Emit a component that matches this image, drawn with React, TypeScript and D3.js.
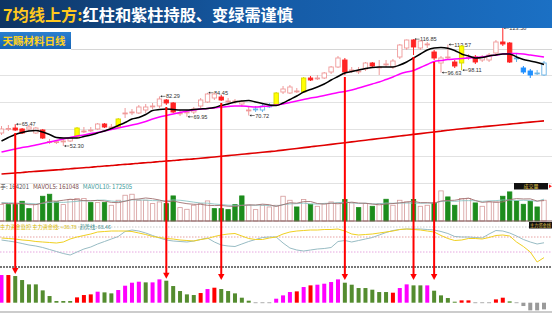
import React from 'react';
import * as d3 from 'd3';

const W = 552;
const H = 313;

// ---- candles ----
const candleOpen = [60.15, 62.6, 63.17, 62.57, 62.57, 60.15, 61.97, 54.72, 54.6, 55.0,
  55.32, 57.74, 61.1, 61.7, 62.57, 65.59, 63.5, 63.78, 71.9, 72.5,
  72.24, 74.05, 76.2, 76.46, 80.09, 78.28, 71.9, 72.5, 72.84, 76.46,
  78.88, 81.30, 81.90, 79.2, 79.2, 77.67, 73.7, 74.35, 74.05, 76.2,
  77.07, 84.92, 84.32, 85.2, 84.92, 93.38, 93.1, 93.38, 97.00, 100.02,
  104.25, 97.9, 97.3, 98.82, 102.44, 99.7, 101.5, 100.02, 106.06, 111.50,
  116.33, 111.50, 113.7, 109.09, 102.44, 105.8, 103.04, 102.44, 105.8, 106.06,
  104.25, 104.25, 108.48, 115.13, 114.52, 105.2, 99.42, 97.61, 96.1, 95.19];
const candleHigh = [64.38, 64.99, 65.47, 63.17, 64.99, 63.78, 62.57, 56.53, 55.92, 56.53,
  57.74, 63.78, 63.78, 63.78, 66.19, 66.19, 65.59, 69.21, 75.26, 74.65,
  77.07, 77.67, 78.28, 82.29, 80.69, 78.88, 74.05, 74.05, 75.86, 81.30,
  84.45, 84.32, 83.11, 81.30, 80.69, 80.09, 75.86, 76.46, 77.67, 78.28,
  84.92, 88.55, 89.15, 87.34, 93.98, 94.59, 95.19, 97.00, 100.63, 106.67,
  105.46, 100.02, 100.02, 103.04, 103.04, 104.25, 104.25, 104.86, 113.92, 116.6,
  116.85, 116.33, 115.13, 110.29, 106.67, 113.57, 104.25, 113.31, 107.88, 107.27,
  107.27, 108.48, 116.33, 123.58, 115.13, 108.48, 100.63, 98.82, 98.21, 103.65];
const candleLow = [58.95, 61.36, 61.36, 59.55, 61.36, 59.55, 56.53, 53.51, 53.51, 52.30,
  54.72, 57.13, 60.15, 60.76, 61.97, 63.17, 62.57, 63.17, 69.21, 71.03,
  71.63, 72.24, 74.65, 75.26, 77.07, 72.24, 70.42, 69.95, 71.63, 75.26,
  78.28, 80.09, 79.48, 77.67, 77.67, 75.86, 70.72, 72.84, 72.84, 75.26,
  76.46, 83.71, 83.71, 84.32, 84.32, 91.57, 92.17, 92.77, 95.80, 99.42,
  95.19, 96.40, 95.80, 97.61, 99.42, 95.19, 100.02, 98.82, 104.86, 110.29,
  107.27, 110.29, 111.50, 104.25, 96.63, 104.25, 99.42, 98.11, 104.25, 101.84,
  103.04, 103.04, 106.67, 112.71, 102.44, 103.04, 95.80, 93.38, 95.19, 94.59];
const candleClose = [62.57, 62.9, 61.97, 60.15, 63.78, 63.17, 57.13, 55.0, 54.9, 55.32,
  57.13, 63.17, 61.36, 61.97, 65.59, 63.78, 63.78, 68.61, 72.24, 72.84,
  75.86, 75.86, 76.46, 80.69, 78.28, 72.84, 72.24, 72.84, 74.65, 80.09,
  83.71, 83.71, 80.09, 79.48, 79.48, 78.88, 74.05, 74.65, 76.46, 76.46,
  84.32, 86.73, 87.94, 85.53, 93.38, 92.17, 93.38, 96.40, 100.02, 105.46,
  97.00, 98.21, 97.61, 102.44, 100.63, 100.02, 101.84, 103.65, 113.31, 116.33,
  112.11, 115.73, 113.92, 105.46, 105.46, 106.06, 100.63, 112.71, 106.06, 103.04,
  106.06, 107.27, 115.13, 113.92, 103.04, 105.46, 97.00, 95.19, 96.40, 102.44];
// p = pink hollow, r = red solid, y = yellow, c = light-blue hollow, b = blue solid
const candleKind = [
  'p','p','r','r','p','p','r','p','p','p',
  'p','y','p','p','p','r','p','y','p','p',
  'p','p','p','p','r','r','p','p','p','p',
  'p','p','r','p','p','p','p','c','c','c',
  'y','p','p','p','y','r','p','p','p','p',
  'r','p','p','p','r','p','p','p','p','p',
  'r','p','p','r','p','p','r','y','p','r',
  'p','p','p','r','r','c','b','b','c','c'];

// moving averages on price panel
const maShort = [55.32,57.43,59.25,60.46,61.36,61.66,60.76,59.25,57.43,57.13,
  57.13,57.13,58.04,58.95,60.15,61.36,62.87,64.68,66.50,68.61,
  69.52,71.33,73.75,74.35,74.65,74.35,74.05,74.05,74.35,74.65,
  74.95,75.56,76.77,77.67,78.88,79.48,79.79,78.88,77.97,77.07,
  76.77,78.28,80.39,82.51,84.92,86.43,87.94,89.75,92.17,94.29,
  96.40,97.31,98.21,99.12,99.72,100.02,100.02,100.02,101.23,103.04,
  105.46,107.88,110.29,111.50,111.80,111.32,109.99,107.88,106.67,105.46,
  105.76,106.67,107.27,107.88,107.88,106.06,104.55,103.65,102.74,101.53];
const maMid = [48.68,49.58,50.49,51.39,52.00,52.90,53.81,54.72,55.62,56.53,
  57.43,58.34,58.95,59.85,60.46,61.36,62.27,63.17,64.08,64.99,
  65.89,67.10,68.61,69.82,70.72,71.63,72.54,73.44,74.05,74.65,
  74.95,75.26,75.86,76.16,76.46,76.46,76.16,75.86,76.16,76.46,
  77.07,77.67,78.58,79.48,80.39,81.30,81.90,82.81,83.71,84.62,
  85.22,86.13,87.34,88.55,89.75,90.96,92.47,93.98,95.80,97.00,
  97.91,99.72,101.53,103.35,103.95,104.55,104.86,105.16,105.46,105.76,
  106.06,106.67,107.27,107.88,108.18,108.18,107.88,107.27,106.67,106.06];
const maLong = [35.4,35.7,36.0,36.3,36.7,37.0,37.3,37.6,37.9,38.2,
  38.6,38.9,39.2,39.5,39.9,40.2,40.5,40.9,41.2,41.5,
  41.9,42.2,42.5,42.9,43.2,43.5,43.9,44.2,44.5,44.9,
  45.3,45.7,46.1,46.5,46.9,47.3,47.7,48.1,48.5,48.9,
  49.3,49.8,50.3,50.8,51.3,51.8,52.3,52.8,53.3,53.8,
  54.3,54.8,55.3,55.8,56.3,56.8,57.3,57.8,58.3,58.8,
  59.3,59.8,60.3,60.8,61.3,61.8,62.3,62.7,63.1,63.5,
  63.9,64.3,64.7,65.1,65.5,65.9,66.3,66.7,67.1,67.5];

// high / low marks
const markIndex = [2, 9, 23, 27, 30, 36, 60, 64, 65, 67, 73];
const markValue = [65.47, 52.30, 82.29, 69.95, 84.45, 70.72, 116.85, 96.63, 113.57, 98.11, 123.58];
const markText = ['65.47', '52.30', '82.29', '69.95', '84.45', '70.72', '116.85', '96.63', '113.57', '98.11', '123.58'];

// ---- volume ----
const volume = [129600,129600,129600,156000,97800,129600,195700,211500,150700,129600,
  169200,177100,177100,145400,145400,145400,124300,163900,203600,211500,
  163900,163900,137500,150700,137500,198300,105800,92500,124300,137500,
  158600,97800,97800,89900,129600,198300,124300,89900,124300,111000,
  124300,195700,163900,111000,169200,132200,116300,137500,150700,142800,
  169200,142800,105800,137500,116300,137500,171900,124300,163900,150700,
  169200,116300,124300,142800,238000,190400,124300,177100,177100,142800,
  116300,150700,150700,195700,230000,158600,132200,156000,111000,164201];
const volumeKind = [
  'p','g','g','g','g','p','g','g','g','p',
  'p','p','p','g','p','g','p','p','p','p',
  'p','p','p','p','g','g','p','p','p','p',
  'p','g','g','g','g','g','p','p','p','p',
  'p','p','p','g','p','g','p','p','p','p',
  'g','p','g','p','g','p','g','p','p','p',
  'g','p','p','g','p','g','g','p','p','g',
  'p','p','p','g','g','g','g','g','g','p'];
const mavol5 = [140000,138000,136000,138000,129000,129000,142000,158000,157000,164000,
  172000,168000,161000,160000,163000,158000,147000,145000,156000,170000,
  174000,182000,176000,166000,151000,158000,146000,137000,132000,132000,
  124000,122000,123000,117000,115000,123000,128000,126000,133000,129000,
  115000,129000,144000,141000,153000,154000,138000,133000,141000,136000,
  143000,149000,142000,140000,134000,128000,134000,138000,143000,150000,
  156000,145000,145000,141000,158000,162000,164000,174000,181000,162000,
  147000,153000,148000,151000,169000,177000,174000,175000,158000,161048];
const mavol10 = [145000,144000,142000,141000,139000,135000,140000,147000,148000,147000,
  151000,155000,160000,159000,164000,165000,158000,153000,158000,167000,
  166000,165000,161000,161000,161000,166000,164000,157000,149000,142000,
  141000,134000,130000,125000,124000,124000,125000,125000,125000,122000,
  119000,129000,135000,137000,141000,135000,134000,139000,141000,145000,
  149000,144000,138000,141000,135000,136000,142000,140000,142000,142000,
  142000,140000,142000,142000,154000,159000,155000,160000,161000,160000,
  155000,159000,161000,166000,166000,162000,164000,162000,155000,172505];

// ---- fund indicator ----
const fundLine = [78,77,76,74,73,71,70,69,68,70,
  76,80,83,86,90,91,92,92,92,91,
  88,85,81,79,77,76,74,73,72,75,
  77,81,84,86,87,82,77,75,75,78,
  80,86,90,92,93,94,94,95,95,96,
  92,86,84,85,86,88,90,92,95,96,
  95,94,92,90,83,77,73,74,77,77,
  76,79,83,84,82,70,61,50,30,38.78];
const trendLine = [74,72,70,67,64,62,59,55,51,47,
  44,50,56,60,66,71,76,81,91,94,
  92,88,83,78,74,72,71,70,72,75,
  78,70,64,62,61,66,71,75,79,80,
  80,68,58,54,52,54,56,57,59,71,
  73,70,73,76,79,84,89,93,95,96,
  96,96,95,94,91,87,81,80,80,79,
  78,86,93,92,88,82,75,70,66,68.46];

// ---- signal bars (bottom) ----
const signal = [83,83,80,68,55,55,37,20,5,5,
  5,16,23,25,33,31,28,38,51,60,
  63,61,61,70,66,50,35,25,23,29,
  41,45,41,35,28,15,6,1,1,1,
  12,22,32,34,47,52,54,57,62,70,
  60,54,44,44,39,32,32,30,44,55,
  52,52,52,36,22,14,3,7,7,1,
  1,1,10,15,4,1,-10,-23,-23,-20];
// m = magenta, r = red, g = green, x = grey
const signalKind = [
  'm','r','g','g','g','g','g','g','g','g',
  'g','r','r','r','m','g','g','m','m','m',
  'm','g','m','m','g','g','g','g','g','r',
  'm','r','g','g','g','g','g','x','x','x',
  'm','m','m','r','m','r','m','m','m','m',
  'g','g','g','g','g','g','g','r','m','m',
  'g','g','m','g','g','g','g','r','r','x',
  'x','x','r','r','g','x','x','x','x','x'];
const arrowIndex = [2, 24, 32, 50, 60, 63];

const FONT_CJK = '"Noto Sans CJK SC", "Noto Sans", sans-serif';
const FONT_SMALL = '"Liberation Sans", "DejaVu Sans", sans-serif';

export default function App() {
  const n = candleOpen.length;
  const x = d3.scaleLinear().domain([0, n - 1]).range([1.5, 544]);
  const yP = d3.scaleLinear().domain([52.30, 123.58]).range([146, 28]);
  const yV = d3.scaleLinear().domain([0, 245000]).range([221, 190]);
  const yI = d3.scaleLinear().domain([50, 80]).range([252, 237]);
  const yS = d3.scaleLinear().domain([0, 90]).range([302.7, 272.7]);

  const priceLine = d3.line<number>().x((_, i) => x(i)).y((v) => yP(v)).curve(d3.curveMonotoneX);
  const volLine = d3.line<number>().x((_, i) => x(i)).y((v) => yV(v));
  const indLine = d3.line<number>().x((_, i) => x(i)).y((v) => yI(v));

  const kindStyle: Record<string, { stroke: string; fill: string }> = {
    p: { stroke: '#f09a9a', fill: '#ffffff' },
    r: { stroke: '#ff2424', fill: '#ff2424' },
    y: { stroke: '#d8d800', fill: '#ffff00' },
    c: { stroke: '#69b3e7', fill: '#ffffff' },
    b: { stroke: '#1e8fff', fill: '#1e8fff' },
  };
  const sigColor: Record<string, string> = { m: '#ff00ff', r: '#ff0000', g: '#548c2f', x: '#9a9a9a' };

  const gridY = [75.5, 102.5, 129.5, 156.5, 183.5];
  const cw = 4.4;

  return (
    <svg width={W} height={H} style={{ position: 'absolute', left: 0, top: 0, background: '#fff' }}>
      <defs>
        <linearGradient id="titleGrad" x1="0" x2="1" y1="0" y2="0">
          <stop offset="0%" stopColor="#0e3463" />
          <stop offset="45%" stopColor="#1559a3" />
          <stop offset="100%" stopColor="#1b70c4" />
        </linearGradient>
        <linearGradient id="subGrad" x1="0" x2="0" y1="0" y2="1">
          <stop offset="0%" stopColor="#2a7fd0" />
          <stop offset="100%" stopColor="#1763b3" />
        </linearGradient>
      </defs>
      <rect x={0} y={0} width={W} height={H} fill="#fff" />

      {/* grid */}
      <line x1={71} x2={W} y1={49.5} y2={49.5} stroke="#d6d6d6" strokeWidth={1} />
      {gridY.map((g) => (
        <line key={g} x1={0} x2={W} y1={g} y2={g} stroke="#e2e2e2" strokeWidth={1} />
      ))}

      {/* long MA */}
      <path d={priceLine(maLong) || ''} fill="none" stroke="#e00000" strokeWidth={1.6} />

      {/* high/low marks */}
      {markIndex.map((idx, k) => {
        const cx = x(idx);
        const cy = yP(markValue[k]);
        return (
          <g key={'m' + k}>
            <line x1={cx + 1.5} x2={cx + 6} y1={cy} y2={cy} stroke="#333" strokeWidth={0.6} />
            <path d={`M${cx + 0.8},${cy} L${cx + 2.6},${cy - 1.2} L${cx + 2.6},${cy + 1.2} Z`} fill="#333" />
            <text x={cx + 6.5} y={cy + 2} fontSize={5.6} fill="#333" fontFamily={FONT_SMALL}>{markText[k]}</text>
          </g>
        );
      })}

      {/* candles */}
      {candleOpen.map((o, i) => {
        const c = candleClose[i];
        const st = kindStyle[candleKind[i]];
        const cx = x(i);
        const top = yP(Math.max(o, c));
        const bot = yP(Math.min(o, c));
        const h = Math.max(bot - top, 0.9);
        return (
          <g key={'c' + i}>
            <line x1={cx} x2={cx} y1={yP(candleHigh[i])} y2={yP(candleLow[i])} stroke={st.stroke} strokeWidth={1} />
            <rect x={cx - cw / 2} y={top} width={cw} height={h} fill={st.fill} stroke={st.stroke} strokeWidth={0.9} />
          </g>
        );
      })}

      {/* short & mid MA */}
      <path d={priceLine(maMid) || ''} fill="none" stroke="#ff00ff" strokeWidth={1.5} />
      <path d={priceLine(maShort) || ''} fill="none" stroke="#000" strokeWidth={1.5} />

      {/* volume header */}
      <text x={0} y={188.5} fontSize={6} fontFamily={FONT_CJK}>
        <tspan fill="#555">手: 164201</tspan>
        <tspan fill="#7a4a4a" dx={4}>MAVOL5: 161048</tspan>
        <tspan fill="#3c9a9a" dx={4}>MAVOL10: 172505</tspan>
      </text>
      <rect x={514} y={183} width={34} height={6.5} fill="#111" />
      <text x={531} y={188.3} fontSize={5} fill="#e6c84a" textAnchor="middle" fontFamily={FONT_CJK}>成交量</text>
      <path d="M549,184.5 L552,186.2 L549,188 Z" fill="#ff2020" />

      {/* volume bars */}
      {volume.map((v, i) => {
        const cx = x(i);
        const yy = yV(v);
        const green = volumeKind[i] === 'g';
        return (
          <rect key={'v' + i} x={cx - 2.2} y={yy} width={4.4} height={yV(0) - yy}
            fill={green ? '#1c8c1c' : '#fff'} stroke={green ? '#1c8c1c' : '#d59a9a'} strokeWidth={0.8} />
        );
      })}
      <path d={volLine(mavol10) || ''} fill="none" stroke="#8cc4c4" strokeWidth={0.9} />
      <path d={volLine(mavol5) || ''} fill="none" stroke="#a07070" strokeWidth={0.9} />
      <line x1={0} x2={W} y1={221} y2={221} stroke="#7a5656" strokeWidth={1} />

      {/* indicator panel */}
      <line x1={0} x2={W} y1={yI(100)} y2={yI(100)} stroke="#bbb" strokeWidth={0.8} strokeDasharray="1.5,1.5" />
      <line x1={0} x2={W} y1={yI(80)} y2={yI(80)} stroke="#e08a8a" strokeWidth={0.8} strokeDasharray="1.5,1.5" />
      <line x1={0} x2={W} y1={yI(50)} y2={yI(50)} stroke="#e090d8" strokeWidth={0.8} strokeDasharray="1.5,1.5" />
      <path d={indLine(trendLine) || ''} fill="none" stroke="#98bcc4" strokeWidth={1} />
      <path d={indLine(fundLine) || ''} fill="none" stroke="#f0d020" strokeWidth={1} />
      <text x={0} y={228.5} fontSize={5.2} fontFamily={FONT_CJK}>
        <tspan fill="#d8b800">主力资金监控 主力资金线: +38.78</tspan>
        <tspan fill="#3c8a8a" dx={3}>趋势线: 68.46</tspan>
      </text>
      <rect x={529} y={222} width={23} height={6.5} fill="#111" />
      <text x={530} y={227.2} fontSize={4.2} fill="#e6c84a" fontFamily={FONT_CJK}>主力资金线</text>
      <line x1={0} x2={W} y1={267} y2={267} stroke="#777" strokeWidth={2} strokeDasharray="2,1" />

      {/* signal bars */}
      {signal.map((v, i) => {
        const cx = x(i);
        const y0 = yS(0);
        const yy = yS(v);
        const top = Math.min(y0, yy);
        const h = Math.max(Math.abs(yy - y0), 0.8);
        return <rect key={'s' + i} x={cx - 2} y={top} width={4} height={h} fill={sigColor[signalKind[i]]} />;
      })}
      <line x1={0} x2={W} y1={312} y2={312} stroke="#999" strokeWidth={1} />

      {/* arrows */}
      {arrowIndex.map((idx) => {
        const cx = x(idx);
        const y1 = yP(candleLow[idx]) + 2;
        const tip = Math.min(280, yS(signal[idx]) - 2);
        return (
          <g key={'a' + idx}>
            <line x1={cx} x2={cx} y1={y1} y2={tip - 5} stroke="#ff0000" strokeWidth={2} />
            <path d={`M${cx - 3.2},${tip - 6} L${cx + 3.2},${tip - 6} L${cx},${tip} Z`} fill="#ff0000" />
          </g>
        );
      })}

      {/* title */}
      <rect x={0} y={0} width={W} height={28} fill="url(#titleGrad)" />
      <text x={3} y={21} fontSize={16.2} fontWeight="bold" fontFamily={FONT_CJK}>
        <tspan fill="#ffc81e">7均线上方:</tspan>
        <tspan fill="#ffffff">红柱和紫柱持股、变绿需谨慎</tspan>
      </text>
      <rect x={0} y={32} width={71} height={17} fill="url(#subGrad)" />
      <text x={2.5} y={45} fontSize={10.5} fontWeight="bold" fill="#ffd21e" fontFamily={FONT_CJK}>天赐材料日线</text>
    </svg>
  );
}
